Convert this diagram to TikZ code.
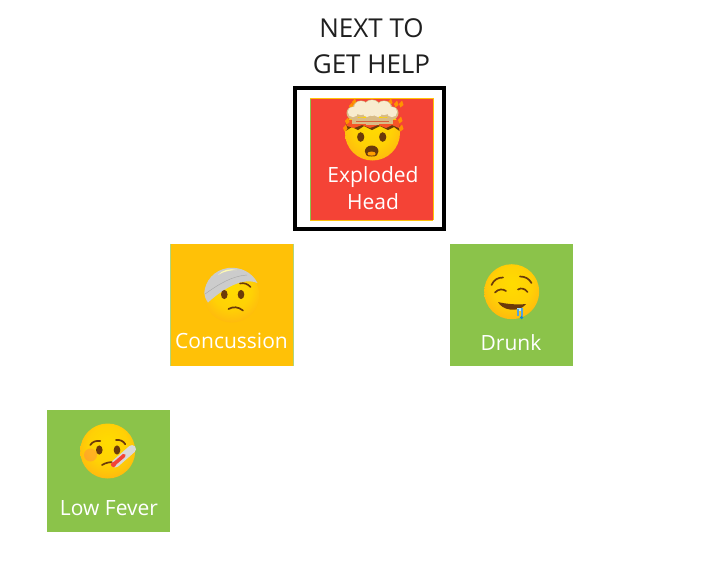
\documentclass[tikz,border=0pt]{standalone}
\usepackage{fontspec}
\setmainfont{Open Sans}
\definecolor{tred}{HTML}{F44336}
\definecolor{tamber}{HTML}{FFC107}
\definecolor{tgreen}{HTML}{8BC34A}
\definecolor{fbrown}{HTML}{6B3A0A}
\definecolor{cream}{HTML}{F8ECCF}
\definecolor{tan}{HTML}{D9BC86}
\pgfdeclareradialshading{faceshade}{\pgfpoint{0bp}{8bp}}{
 rgb(0bp)=(1,0.86,0); rgb(18bp)=(1,0.82,0.02); rgb(34bp)=(1,0.69,0.07); rgb(46bp)=(0.97,0.55,0.08); rgb(60bp)=(0.88,0.40,0.05)}
\tikzset{
 tile/.style={minimum width=123pt,minimum height=122pt,inner sep=0pt,anchor=center},
 lbl/.style={text=white,font=\fontsize{21}{27}\selectfont,align=center,inner sep=0pt},
 title/.style={text=black!88,font=\fontsize{26}{36}\selectfont,align=center,inner sep=0pt},
 fline/.style={draw=fbrown,line width=1.7pt,line cap=round,fill=none},
}
\newcommand{\faceball}[2]{\shade[shading=faceshade] (#1,#2) circle[radius=27.5];}
\begin{document}
\begin{tikzpicture}[x=1pt,y=-1pt]
\useasboundingbox (0,0) rectangle (720,563);
\fill[white] (0,0) rectangle (720,563);
% title
\node[title] (ttl) at (371.5,46) {NEXT TO\\GET HELP};
% frame and tiles
\node[draw=black,line width=4pt,minimum width=149pt,minimum height=141pt,inner sep=0pt] (frame) at (369.5,158.5) {};
\node[tile,fill=tred] (head) at (371.5,159) {};
\draw[tgreen,line width=.6pt] (head.south west) -- (head.north west);
\draw[tamber,line width=.7pt] (head.north east) -- (head.south east);
\draw[tamber,line width=.35pt] (head.north west) -- (head.north east) (head.south east) -- (head.south west);
\node[tile,fill=tamber] (conc) at (231.5,305) {};
\draw[tgreen!70,line width=.6pt] (conc.north west) -- (conc.south west) (conc.north east) -- (conc.south east);
\node[tile,fill=tgreen] (drunk) at (511.5,305) {};
\node[tile,fill=tgreen] (fever) at (108.5,470.5) {};
% labels
\node[lbl] (headl) at (373,188.5) {Exploded\\Head};
\node[lbl] (concl) at (231.5,341) {Concussion};
\node[lbl] (drunkl) at (511,343) {Drunk};
\node[lbl] (feverl) at (109,508.5) {Low Fever};
% --- exploded head emoji
\faceball{372.5}{133}
\fill[fbrown] (345.5,131) -- (352,127) -- (358,130) -- (364,126) -- (372,130) -- (380,126) -- (388,130) -- (394,127) -- (399.5,131) -- (399,120) -- (346,120) -- cycle;
\fill[tred!70!orange] (345,120) -- (400,120) -- (399,128) -- (392,125) -- (386,128) -- (378,125) -- (370,128) -- (362,125) -- (354,128) -- (347,126) -- cycle;
\foreach \p/\q in {343/128,399/128,345/121,398/120,349/106,394/104,352/102,388/102,399/104}{
 \fill[orange!85!yellow] (\p,\q) -- ++(3,-3.5) -- ++(1.5,4.5) -- ++(-3,2.5) -- cycle;}
\fill[tan] (366,112) rectangle (379,125);
\fill[tan] (352,118) rectangle (393,124);
\draw[tred!50!brown,line width=.8pt] (356,121) -- (389,121);
\foreach \p/\q/\r in {372/109/9.5,361/109/8.5,384/109/8.5,353/113/6.5,392/113/6.5}{
 \fill[tan] (\p,\q) circle[radius=\r];}
\foreach \p/\q/\r in {372/108/8,361/108/7,384/108/7,353/112/5.2,392/112/5.2,367/113/4,378/113/4}{
 \fill[cream] (\p,\q) circle[radius=\r];}
\fill[fbrown] (360.7,137) circle[x radius=3.6,y radius=4.8] (382.7,137) circle[x radius=3.6,y radius=4.8];
\fill[fbrown] (371.7,156.5) .. controls (362,157.5) and (363,145.5) .. (371.7,145.5) .. controls (380.5,145.5) and (381,157.5) .. (371.7,156.5) -- cycle;
\fill[orange!75!yellow] (371.7,155.6) .. controls (366,156.3) and (366,151.5) .. (371.7,151.5) .. controls (377,151.5) and (377,156.3) .. (371.7,155.6) -- cycle;
% --- concussion emoji
\faceball{231.7}{295}
\fill[black!20] (204.3,293) .. controls (205,281) and (214,270) .. (228,268) .. controls (240,266.5) and (252,272) .. (257.5,283) .. controls (243,277) and (224,288) .. (208,302.5) .. controls (205.5,299) and (204.5,296) .. (204.3,293) -- cycle;
\draw[black!33,line width=.5pt] (205,294) .. controls (219,284) and (232,276) .. (247,275);
\fill[white!70!yellow] (218,275) .. controls (224,271) and (232,270) .. (237,270) .. controls (230,268) and (222,270) .. (218,275) -- cycle;
\draw[fbrown,line width=1.6pt,line cap=round] (240,283.5) .. controls (244,282.5) and (248,284) .. (250.5,287);
\fill[fbrown] (224.3,294.5) circle[x radius=3.3,y radius=4.6] (241,294.5) circle[x radius=3.3,y radius=4.6];
\draw[fline] (228.5,309) .. controls (233,306.5) and (238,306.5) .. (243,310.5);
% --- drunk emoji
\faceball{511.7}{291.7}
\draw[fline] (491.5,285) .. controls (494,279.5) and (498,277.5) .. (503,277.5);
\draw[fline] (520,276.5) .. controls (525,276.5) and (529,278.5) .. (531.5,283);
\draw[fline] (495,292.5) .. controls (498,289) and (503,288.5) .. (506,291);
\draw[fline] (518,289.5) .. controls (521,287.5) and (525,288.5) .. (527.5,292);
\fill[fbrown] (498,302) .. controls (506,304) and (517,305) .. (526,304) .. controls (523,308.5) and (516,310.5) .. (510,309.5) .. controls (505,309) and (500,306) .. (498,302) -- cycle;
\fill[white!70!cyan] (516.5,308) rectangle (523,311);
\fill[cyan!70!blue!70] (516.5,309) rectangle (518.5,316);
\fill[cyan!70!blue!70] (520.5,308) rectangle (522.8,316);
\fill[cyan!70!blue] (521.6,317.5) circle[radius=1.8];
% --- low fever emoji
\faceball{107.7}{451}
\fill[red!60,opacity=.3] (90.5,455) circle[radius=6.5];
\draw[fline] (90.3,445) .. controls (92.5,441.5) and (96,440.5) .. (100.3,441);
\draw[fline] (116,440) .. controls (120,439.5) and (123.5,441) .. (125.3,444.3);
\fill[fbrown] (99.3,450) circle[x radius=3.3,y radius=4.6] (117,450) circle[x radius=3.3,y radius=4.6];
\draw[fline] (102,465) .. controls (106,462.5) and (110,462) .. (115,462);
\draw[black!15,line width=8pt,line cap=round] (115.5,463.5) -- (132,449);
\draw[tred,line width=3.6pt,line cap=round] (113.5,464.5) -- (124,455.5);
\fill[tred] (113.5,464.5) circle[radius=2.6];
\end{tikzpicture}
\end{document}
